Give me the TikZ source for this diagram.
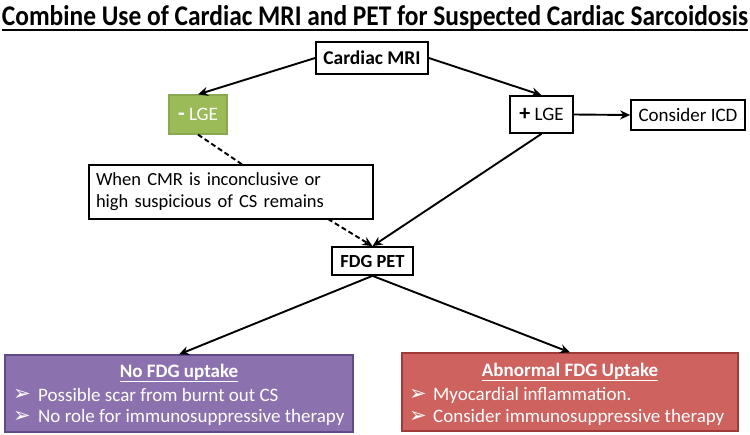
\documentclass[tikz,border=0pt]{standalone}
\usepackage{fontspec}
\setmainfont{Carlito}
\newfontfamily\dejavu{DejaVu Sans}
\usetikzlibrary{arrows.meta}
\definecolor{lgegreen}{HTML}{9BBB59}
\definecolor{lgegreenb}{HTML}{8AA84E}
\definecolor{nofill}{HTML}{8B72AE}
\definecolor{noborder}{HTML}{5F4B8B}
\definecolor{abfill}{HTML}{CD625E}
\definecolor{abborder}{HTML}{9E3B38}
\begin{document}
\begin{tikzpicture}[x=1pt,y=-1pt,
  box/.style={draw, line width=1.7pt, rectangle, inner sep=0pt, align=center, font=\fontsize{19}{22}\selectfont},
  arr/.style={-{Stealth[length=10pt,width=9pt]}, line width=1.9pt},
  dasharr/.style={arr, dash pattern=on 5pt off 3pt},
  colbox/.style={rectangle, inner sep=0pt, line width=1.2pt},
  bul/.style={anchor=west, text=white, inner sep=0pt, font=\dejavu\fontsize{21}{23}\selectfont},
  btxt/.style={anchor=west, text=white, inner sep=0pt, font=\fontsize{19}{22}\selectfont},
  btitle/.style={text=white, inner sep=0pt, font=\bfseries\fontsize{19}{22}\selectfont}]
\useasboundingbox (0,0) rectangle (750,434);
% title
\node[anchor=base, inner sep=0pt] (title) at (375,25) {\resizebox{746pt}{20pt}{\bfseries Combine Use of Cardiac MRI and PET for Suspected Cardiac Sarcoidosis}};
\draw[line width=1.6pt] (title.south west |- 0,30) coordinate (ul1) -- (title.south east |- 0,30) coordinate (ul2);
% nodes
\node[box, minimum width=112pt, minimum height=32pt, font=\bfseries\fontsize{19.5}{22}\selectfont] (mri) at (372,58) {Cardiac MRI};
\node[box, draw=lgegreenb, fill=lgegreen, text=white, line width=1.2pt, minimum width=58pt, minimum height=39pt] (neg) at (198,114.5) {{\fontsize{22}{22}\selectfont\textbf{-}} LGE};
\node[box, minimum width=63pt, minimum height=37pt] (pos) at (541.5,114.5) {{\fontsize{22}{22}\selectfont\textbf{+}} LGE};
\node[box, minimum width=114pt, minimum height=30pt] (icd) at (688,115) {Consider ICD};
\node[box, minimum width=284pt, minimum height=54pt, text width=270pt, align=left, font=\fontsize{18.5}{22}\selectfont] (cmr) at (231,192) {When CMR is inconclusive or\\high suspicious of CS remains};
\node[box, minimum width=81pt, minimum height=28pt, font=\bfseries\fontsize{18.5}{21}\selectfont] (pet) at (372.5,261) {FDG PET};
\node[colbox, draw=noborder, fill=nofill, minimum width=348pt, minimum height=77pt] (nofdg) at (179,393.5) {};
\node[colbox, draw=abborder, fill=abfill, minimum width=336pt, minimum height=78pt] (abn) at (570,392) {};
% bottom-left contents
\node[btitle] (t1) at (179,373) {\underline{No FDG uptake}};
\node[bul] (b11) at (13,395) {➢};
\node[btxt] (l11) at (38,395) {Possible scar from burnt out CS};
\node[bul] (b12) at (13,417) {➢};
\node[btxt] (l12) at (38,417) {No role for immunosuppressive therapy};
% bottom-right contents
\node[btitle] (t2) at (570,372) {\underline{Abnormal FDG Uptake}};
\node[bul] (b21) at (409,395) {➢};
\node[btxt] (l21) at (433,395) {Myocardial inflammation.};
\node[bul] (b22) at (409,417) {➢};
\node[btxt] (l22) at (433,417) {Consider immunosuppressive therapy};
% connectors
\coordinate (d1) at (243,165);
\coordinate (d2) at (328,219);
\draw[arr] (mri.west) -- (neg.north);
\draw[arr] (mri.east) -- (pos.north);
\draw[arr] (pos.east) -- (icd.west);
\draw[arr] (pos.south) -- (pet.north);
\draw[line width=1.9pt, dash pattern=on 5pt off 3pt] (neg.south) -- (d1);
\draw[dasharr] (d2) -- (pet.north);
\draw[arr] (pet.south) -- (nofdg.north);
\draw[arr] (pet.south) -- (abn.north);
\end{tikzpicture}
\end{document}
